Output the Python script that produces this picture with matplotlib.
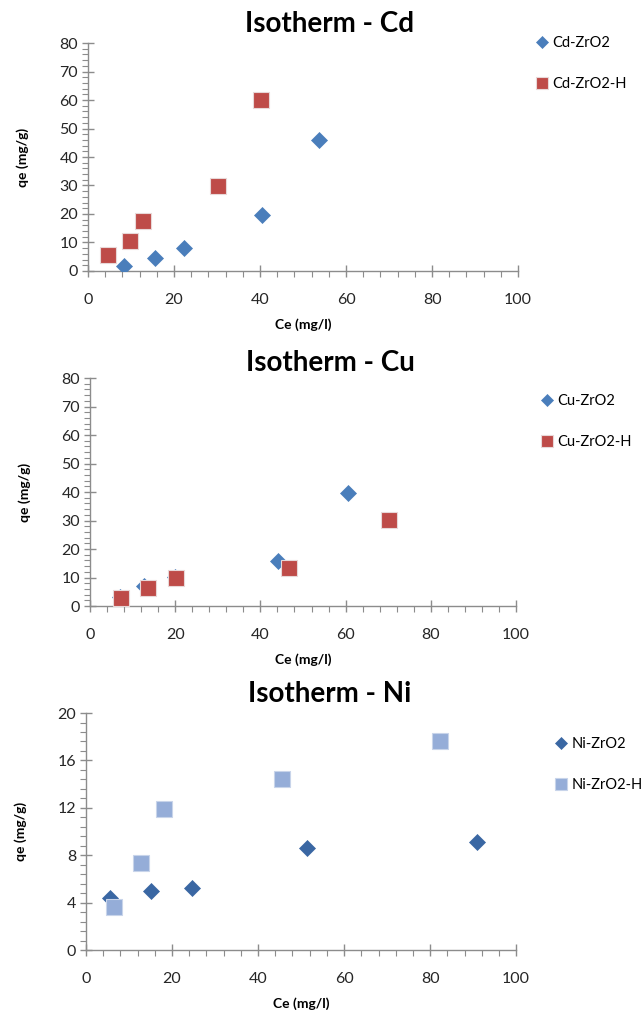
import matplotlib
matplotlib.use("Agg")
import matplotlib.pyplot as plt
from matplotlib.ticker import MultipleLocator

plt.rcParams['font.family'] = ['Lato', 'DejaVu Sans']

# Cd isotherm
cd_ce = [8.3, 15.7, 22.4, 40.4, 53.8]
cd_qe = [1.9, 4.4, 7.9, 19.8, 46.1]
cdh_ce = [4.6, 9.8, 12.8, 30.3, 40.3]
cdh_qe = [5.5, 10.4, 17.4, 29.7, 60.1]

# Cu isotherm
cu_ce = [7.0, 12.8, 19.9, 44.2, 60.5]
cu_qe = [3.0, 7.0, 10.2, 15.9, 39.5]
cuh_ce = [7.2, 13.7, 20.3, 46.6, 70.1]
cuh_qe = [2.9, 6.3, 9.8, 13.2, 30.1]

# Ni isotherm
ni_ce = [5.5, 15.1, 24.7, 51.4, 91.0]
ni_qe = [4.41, 4.94, 5.2, 8.65, 9.1]
nih_ce = [6.5, 12.7, 18.1, 45.6, 82.4]
nih_qe = [3.62, 7.36, 11.9, 14.4, 17.6]

panels = [
    dict(title='Isotherm - Cd', a=(cd_ce, cd_qe, 'Cd-ZrO2', '#4a7ebb'),
         b=(cdh_ce, cdh_qe, 'Cd-ZrO2-H', '#be4b48', '#e8d8d8'),
         ylim=80, ymaj=10, ymin=2, rect=[0.137, 0.7317, 0.670, 0.2257],
         leg=(0.826, 0.970), title_y=0.976),
    dict(title='Isotherm - Cu', a=(cu_ce, cu_qe, 'Cu-ZrO2', '#4a7ebb'),
         b=(cuh_ce, cuh_qe, 'Cu-ZrO2-H', '#be4b48', '#e8d8d8'),
         ylim=80, ymaj=10, ymin=2, rect=[0.140, 0.400, 0.664, 0.2257],
         leg=(0.834, 0.616), title_y=0.641),
    dict(title='Isotherm - Ni', a=(ni_ce, ni_qe, 'Ni-ZrO2', '#3a67a3'),
         b=(nih_ce, nih_qe, 'Ni-ZrO2-H', '#95add8', '#c8d4ea'),
         ylim=20, ymaj=4, ymin=0.8, rect=[0.134, 0.0594, 0.670, 0.2346],
         leg=(0.856, 0.276), title_y=0.313),
]

fig = plt.figure(figsize=(6.42, 10.10), dpi=100)

for p in panels:
    ax = fig.add_axes(p['rect'])
    xa, ya, la, ca = p['a']
    xb, yb, lb, cb, eb = p['b']
    ax.plot(xa, ya, 'D', color=ca, markersize=8, markeredgecolor=ca,
            markeredgewidth=0.5, label=la, zorder=3)
    ax.plot(xb, yb, 's', color=cb, markersize=11, markeredgecolor=eb,
            markeredgewidth=0.8, label=lb, zorder=3)

    ax.set_xlim(0, 100)
    ax.set_ylim(0, p['ylim'])
    ax.xaxis.set_major_locator(MultipleLocator(20))
    ax.xaxis.set_minor_locator(MultipleLocator(4))
    ax.yaxis.set_major_locator(MultipleLocator(p['ymaj']))
    ax.yaxis.set_minor_locator(MultipleLocator(p['ymin']))

    for s in ['top', 'right']:
        ax.spines[s].set_visible(False)
    for s in ['left', 'bottom']:
        ax.spines[s].set_color('#8c8c8c')
        ax.spines[s].set_linewidth(1.0)
    ax.tick_params(which='major', direction='inout', length=8, width=1,
                   color='#8c8c8c', labelsize=11.5, labelcolor='#262626', pad=3)
    ax.tick_params(which='minor', direction='out', length=4, width=0.8,
                   color='#8c8c8c')
    ax.tick_params(axis='x', which='major', pad=12)

    # chart title is centred over the whole chart area, legend included
    fig.text(0.514, p['title_y'], p['title'], fontsize=20, fontweight='bold',
             ha='center', va='center')
    ax.set_xlabel('Ce (mg/l)', fontsize=10, fontweight='bold', labelpad=8)
    ax.set_ylabel('qe (mg/g)', fontsize=10, fontweight='bold', labelpad=22)

    ax.legend(loc='upper left', bbox_to_anchor=p['leg'],
              bbox_transform=fig.transFigure, frameon=False,
              fontsize=10.5, handlelength=0.8, handletextpad=0.3,
              labelspacing=1.85, borderaxespad=0, markerscale=0.8)

fig.savefig('out.png', dpi=100)
